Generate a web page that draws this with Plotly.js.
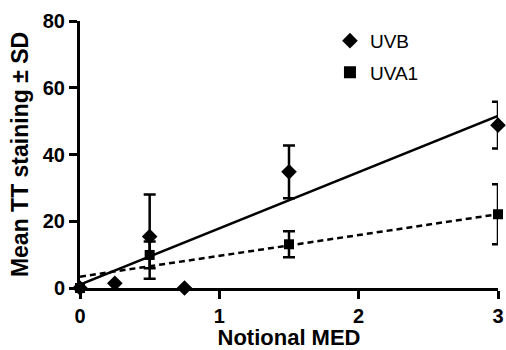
<!DOCTYPE html>
<html>
<head>
<meta charset="utf-8">
<script src="https://cdn.plot.ly/plotly-3.0.1.min.js"></script>
<style>html,body{margin:0;padding:0;background:#fff;}#chart{width:506px;height:350px;}</style>
</head>
<body>
<div id="chart"></div>
<script>
// Data
const uvbX = [0, 0.25, 0.5, 0.75, 1.5, 3];
const uvbY = [0, 1.4, 15.4, 0, 34.8, 48.8];
const uvbSD = [0, 0, 12.6, 0, 7.9, 7];

const uva1X = [0, 0.5, 1.5, 3];
const uva1Y = [0, 9.9, 13.1, 22.1];
const uva1SD = [0, 4, 3.9, 9];

const fitX = [0, 3];
const uvbFit = [1, 51.6];
const uva1Fit = [3.4, 22.1];

const xTicks = [0, 1, 2, 3];
const yTicks = [0, 20, 40, 60, 80];

const FONT = 'Liberation Sans, Arial, sans-serif';

const traces = [
  {x: fitX, y: uvbFit, mode: 'lines', line: {color: '#000', width: 2.5}, showlegend: false, hoverinfo: 'skip', cliponaxis: false},
  {x: fitX, y: uva1Fit, mode: 'lines', line: {color: '#000', width: 2.5, dash: '6px,4px'}, showlegend: false, hoverinfo: 'skip', cliponaxis: false},
  {x: uvbX, y: uvbY, name: 'UVB', legendgroup: 'a', mode: 'markers', cliponaxis: false,
   marker: {symbol: 'diamond', size: 12, color: '#000'},
   error_y: {type: 'data', array: uvbSD, visible: true, color: '#000', thickness: 2.5, width: 6}},
  {x: uva1X, y: uva1Y, name: 'UVA1', legendgroup: 'b', mode: 'markers', cliponaxis: false,
   marker: {symbol: 'square', size: 10, color: '#000'},
   error_y: {type: 'data', array: uva1SD, visible: true, color: '#000', thickness: 2.5, width: 6}}
];

const layout = {
  width: 506, height: 350,
  margin: {l: 80, r: 8, t: 21, b: 62},
  paper_bgcolor: '#fff', plot_bgcolor: '#fff',
  font: {family: FONT, color: '#000'},
  showlegend: true,
  legend: {x: 0.598, y: 0.997, xanchor: 'left', yanchor: 'top', font: {size: 19, family: FONT}, bgcolor: 'rgba(0,0,0,0)', itemsizing: 'constant', tracegroupgap: 4},
  xaxis: {
    range: [0, 3], tickvals: xTicks, ticktext: xTicks.map(String),
    showline: true, linewidth: 3, linecolor: '#000', showgrid: false, zeroline: false,
    ticks: 'outside', ticklen: 8, tickwidth: 3, tickcolor: '#000',
    tickfont: {size: 20, family: FONT, weight: 'bold'},
    title: {text: 'Notional MED', font: {size: 22, family: FONT, weight: 'bold'}, standoff: 8}
  },
  yaxis: {
    range: [0, 80], tickvals: yTicks, ticktext: yTicks.map(String),
    showline: true, linewidth: 3, linecolor: '#000', showgrid: false, zeroline: false,
    ticks: 'outside', ticklen: 8, tickwidth: 3, tickcolor: '#000',
    tickfont: {size: 20, family: FONT, weight: 'bold'},
    title: {text: 'Mean TT staining ± SD', font: {size: 23, family: FONT, weight: 'bold'}, standoff: 8}
  }
};

Plotly.newPlot('chart', traces, layout, {displayModeBar: false, staticPlot: true});
</script>
</body>
</html>
